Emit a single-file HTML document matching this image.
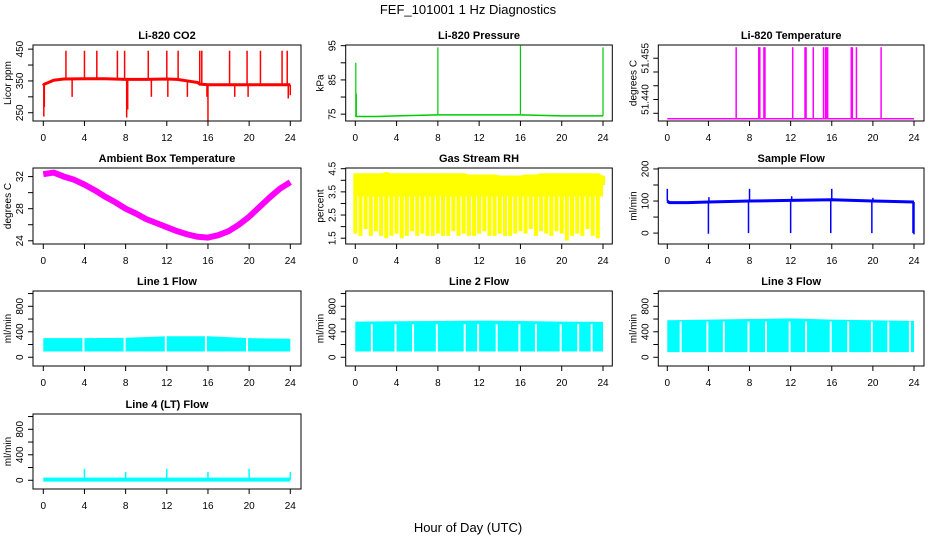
<!DOCTYPE html>
<html><head><meta charset="utf-8"><style>
html,body{margin:0;padding:0;background:#fff}
svg{display:block;font-family:"Liberation Sans",sans-serif}
</style></head><body>
<svg id="chart" width="936" height="540" viewBox="0 0 936 540" xmlns="http://www.w3.org/2000/svg">
<text x="468" y="14" text-anchor="middle" font-size="13">FEF_101001  1 Hz Diagnostics</text>
<text x="468" y="532" text-anchor="middle" font-size="13">Hour of Day (UTC)</text>
</svg>
<script>
// x tick values
const xTicks = [0,4,8,12,16,20,24];
// CO2
const co2BaseHours = [0,0.1,0.5,1,2,4,6,8,10,12,13,14,15,15.2,16,18,20,22,24];
const co2BaseVals  = [335,340,345,352,356,357,357,355,355,356,355,350,345,340,338,338,338,338,338];
const co2SpikeHours = [2.2,4,5.2,7.2,7.9,10.2,12,13.1,15.2,15.4,18.1,19.8,21.1,23.2,23.7,0.05,0.1,2.8,8.1,8.2,10.5,12.1,14,15.9,16,18.6,19.9,23.8,24];
const co2SpikeVals  = [445,445,445,445,445,445,445,445,445,445,445,445,445,445,445,238,268,300,235,260,300,300,300,300,225,300,300,295,305];
// Pressure
const presBaseHours = [0,0.1,2,4,8,12,16,20,24];
const presBaseVals  = [74.5,74.3,74.3,74.5,74.8,74.8,74.8,74.5,74.5];
const presSpikeHours = [0.05,0.1,8,16,24];
const presSpikeVals  = [90,81,94.5,95,94.5];
// Li-820 temperature
const tempBaseHours = [0,24];
const tempBaseVals  = [51.433,51.433];
const tempSpikeHours = [6.7,8.9,9.0,9.4,9.5,12.2,13.4,13.5,14.2,15.2,15.4,15.5,15.6,17.9,18.0,18.4,20.8];
const tempSpikeVals  = [51.459,51.459,51.459,51.459,51.459,51.459,51.459,51.459,51.459,51.459,51.459,51.459,51.459,51.459,51.459,51.459,51.459];
// Ambient box temperature
const ambHours = [0,1,2,3,4,5,6,7,8,9,10,11,12,13,14,15,16,17,18,19,20,21,22,23,24];
const ambVals  = [32.3,32.5,32.0,31.6,31.0,30.3,29.5,28.8,28.0,27.4,26.7,26.2,25.7,25.2,24.8,24.5,24.4,24.7,25.2,26.0,27.0,28.2,29.4,30.5,31.3];
// Gas stream RH
const rhHours = [0,0.5,1,1.5,2,2.5,3,3.5,4,4.5,5,5.5,6,6.5,7,7.5,8,8.5,9,9.5,10,10.5,11,11.5,12,12.5,13,13.5,14,14.5,15,15.5,16,16.5,17,17.5,18,18.5,19,19.5,20,20.5,21,21.5,22,22.5,23,23.5,24];
const rhLows  = [1.7,1.6,1.9,1.6,1.8,1.6,1.5,1.6,1.7,1.5,1.6,1.8,1.6,1.7,1.6,1.6,1.7,1.6,1.6,1.8,1.6,1.7,1.6,1.6,1.7,1.8,1.6,1.6,1.7,1.6,1.6,1.7,1.8,1.7,1.9,1.6,1.8,1.7,1.6,1.8,1.7,1.4,1.6,1.7,1.6,1.9,1.6,1.5,3.8];
const rhHighs = [4.3,4.3,4.3,4.3,4.3,4.3,4.35,4.3,4.3,4.3,4.3,4.3,4.3,4.3,4.3,4.3,4.3,4.3,4.3,4.3,4.3,4.3,4.25,4.25,4.25,4.25,4.25,4.25,4.2,4.2,4.2,4.2,4.2,4.25,4.25,4.25,4.3,4.3,4.3,4.3,4.3,4.3,4.3,4.3,4.3,4.3,4.3,4.3,4.2];
// Sample flow
const sfBaseHours = [0,0.2,2,4,8,12,16,20,24];
const sfBaseVals  = [100,95,95,97,100,102,104,100,97];
const sfSpikeHours = [0,4,4.05,7.9,8,12,12.1,15.9,16,19.9,20,23.9,24];
const sfSpikeVals  = [138,-2,112,0,138,0,115,0,138,0,110,0,-4];
// Line flows (band bottom / top, white gaps)
const flowHours = [0,4,8,12,16,20,24];
const line1Lows  = [90,90,90,90,90,90,90];
const line1Highs = [300,300,305,330,330,300,290];
const line1Gaps  = [3.9,7.9,11.9,15.8,19.8];
const line2Lows  = [90,90,90,90,90,90,90];
const line2Highs = [560,565,570,575,570,560,555];
const line2Gaps  = [1.6,3.9,5.6,7.9,10.6,11.9,13.7,15.9,17.5,19.9,21.6,22.9];
const line3Lows  = [80,80,80,80,80,80,80];
const line3Highs = [580,590,600,610,590,580,570];
const line3Gaps  = [1.3,3.9,5.5,7.9,9.6,11.9,13.5,15.9,17.6,19.9,21.5,23.6];
// Line 4 flow
const l4BaseHours = [0,24];
const l4BaseVals  = [10,10];
const l4SpikeHours = [4,8,12,16,20,24];
const l4SpikeVals  = [180,130,180,130,180,130];

const NS = "http://www.w3.org/2000/svg";
const svg = document.getElementById('chart');
const cols = [{l:33,r:301,x0:43.3,x1:290.3},{l:345.7,r:612.3,x0:355.3,x1:603},{l:658.3,r:924,x0:667.3,x1:914}];
const rows = [{t:45,b:121},{t:168,b:244},{t:291,b:366},{t:414,b:489}];
function mk(tag, attrs, parent){const e=document.createElementNS(NS,tag);for(const k in attrs)e.setAttribute(k,attrs[k]);(parent||svg).appendChild(e);return e;}
function makePanel(c,r,title,ylab,ymin,ymax,ticks,labels,name){
  const C=cols[c],R=rows[r];
  const g=mk('g',{});
  
  
  const p={g,C,R,ymin,ymax,
    sx:h=>C.x0+(C.x1-C.x0)*h/24,
    sy:v=>R.b-(v-ymin)/(ymax-ymin)*(R.b-R.t)};
  const tt=mk('text',{x:(C.l+C.r)/2,y:R.t-6,'text-anchor':'middle','font-size':11,'font-weight':'bold'},g);
  tt.textContent=title;
  
  
  p.data=mk('g',{},g);
  p.finish=function(){
    const box=mk('rect',{x:C.l,y:R.t,width:C.r-C.l,height:R.b-R.t,fill:'none',stroke:'#000','stroke-width':1},g);
    
    
    xTicks.forEach(h=>{
      const x=p.sx(h);
      mk('line',{x1:x,x2:x,y1:R.b,y2:R.b+5,stroke:'#000'},g);
      const t=mk('text',{x:x,y:R.b+20,'text-anchor':'middle','font-size':10},g);
      t.textContent=h;
      
      
    });
    ticks.forEach(v=>{
      const y=p.sy(v);
      mk('line',{x1:C.l-5,x2:C.l,y1:y,y2:y,stroke:'#000'},g);
    });
    labels.forEach(v=>{
      const y=p.sy(v);
      const t=mk('text',{x:C.l-10,y:y,'text-anchor':'middle','font-size':10,transform:`rotate(-90 ${C.l-10} ${y})`},g);
      t.textContent=v;
      
      
    });
    const yl=mk('text',{x:C.l-22,y:(R.t+R.b)/2,'text-anchor':'middle','font-size':10,transform:`rotate(-90 ${C.l-22} ${(R.t+R.b)/2})`},g);
    yl.textContent=ylab;
    
    
  };
  return p;
}
function interp(hs,vs,h){if(h<=hs[0])return vs[0];for(let i=1;i<hs.length;i++){if(h<=hs[i]){const f=(h-hs[i-1])/(hs[i]-hs[i-1]);return vs[i-1]+f*(vs[i]-vs[i-1]);}}return vs[vs.length-1];}
function drawLine(p,hs,vs,color,w,name){
  const pl=mk('polyline',{points:hs.map((h,i)=>p.sx(h)+','+p.sy(vs[i])).join(' '),fill:'none',stroke:color,'stroke-width':w,'stroke-linejoin':'round'},p.data);
  
  
}
function drawSpikes(p,bh,bv,sh,sv,color,w,name){
  sh.forEach((h,i)=>{
    const x=p.sx(h);
    const l=mk('line',{x1:x,x2:x,y1:p.sy(interp(bh,bv,h)),y2:p.sy(sv[i]),stroke:color,'stroke-width':w},p.data);
    
    
  });
}
function drawBand(p,hs,lo,hi,color,name){
  const pts=hs.map((h,i)=>p.sx(h)+','+p.sy(hi[i])).concat(hs.slice().reverse().map((h,j)=>p.sx(h)+','+p.sy(lo[hs.length-1-j])));
  const pg=mk('polygon',{points:pts.join(' '),fill:color},p.data);
  
  
}
function drawGaps(p,gs,lo,hi,name){
  gs.forEach(h=>{const x=p.sx(h);
    const l=mk('line',{x1:x,x2:x,y1:p.sy(lo),y2:p.sy(hi),stroke:'#fff','stroke-width':2},p.data);
    
    
  });
}

// CO2
let p=makePanel(0,0,'Li-820 CO2','Licor ppm',224,463,[250,300,350,400,450],[250,350,450],'co2');
drawLine(p,co2BaseHours,co2BaseVals,'#f00',3,'co2-line');
drawSpikes(p,co2BaseHours,co2BaseVals,co2SpikeHours,co2SpikeVals,'#f00',1.5,'co2-spike');
p.finish();
// Pressure
p=makePanel(1,0,'Li-820 Pressure','kPa',73,95.2,[75,80,85,90,95],[75,85,95],'pressure');
drawLine(p,presBaseHours,presBaseVals,'#0c0',1.5,'pressure-line');
drawSpikes(p,presBaseHours,presBaseVals,presSpikeHours,presSpikeVals,'#0c0',1.2,'pressure-spike');
p.finish();
// Li-820 temperature
p=makePanel(2,0,'Li-820 Temperature','degrees C',51.4322,51.4598,[51.435,51.44,51.445,51.45,51.455],[51.440,51.455].map(v=>v.toFixed(3)),'li820-temperature');
drawLine(p,tempBaseHours,tempBaseVals,'#f0f',1.5,'temperature-line');
drawSpikes(p,tempBaseHours,tempBaseVals,tempSpikeHours,tempSpikeVals,'#f0f',1.5,'temperature-spike');
p.finish();
// Ambient
p=makePanel(0,1,'Ambient Box Temperature','degrees C',23.6,33.07,[24,26,28,30,32],[24,28,32],'ambient-temperature');
drawLine(p,ambHours,ambVals,'#f0f',6,'ambient-temperature-line');
p.finish();
// RH
p=makePanel(1,1,'Gas Stream RH','percent',1.25,4.53,[1.5,2,2.5,3,3.5,4,4.5],[1.5,2.5,3.5,4.5],'gas-stream-rh');
drawBand(p,rhHours,rhHours.map(()=>3.3),rhHighs,'#ff0','rh-band');
drawSpikes(p,rhHours,rhHighs,rhHours,rhLows,'#ff0',4,'rh-spike');
p.finish();
// Sample flow
p=makePanel(2,1,'Sample Flow','ml/min',-34,203,[0,50,100,150,200],[0,100,200],'sample-flow');
drawLine(p,sfBaseHours,sfBaseVals,'#00f',3,'sample-flow-line');
drawSpikes(p,sfBaseHours,sfBaseVals,sfSpikeHours,sfSpikeVals,'#00f',1.5,'sample-flow-spike');
p.finish();
// Line 1
const flowTicks=[0,200,400,600,800,1000], flowLabels=[0,400,800];
p=makePanel(0,2,'Line 1 Flow','ml/min',-137,1040,flowTicks,flowLabels,'line1-flow');
drawBand(p,flowHours,line1Lows,line1Highs,'#0ff','line1-band');
drawGaps(p,line1Gaps,80,340,'line1-gap');
p.finish();
// Line 2
p=makePanel(1,2,'Line 2 Flow','ml/min',-137,1040,flowTicks,flowLabels,'line2-flow');
drawBand(p,flowHours,line2Lows,line2Highs,'#0ff','line2-band');
drawGaps(p,line2Gaps,80,520,'line2-gap');
p.finish();
// Line 3
p=makePanel(2,2,'Line 3 Flow','ml/min',-137,1040,flowTicks,flowLabels,'line3-flow');
drawBand(p,flowHours,line3Lows,line3Highs,'#0ff','line3-band');
drawGaps(p,line3Gaps,70,560,'line3-gap');
p.finish();
// Line 4
p=makePanel(0,3,'Line 4 (LT) Flow','ml/min',-137,1040,flowTicks,flowLabels,'line4-flow');
drawLine(p,l4BaseHours,l4BaseVals,'#0ff',4,'line4-line');
drawSpikes(p,l4BaseHours,l4BaseVals,l4SpikeHours,l4SpikeVals,'#0ff',1.5,'line4-spike');
p.finish();
</script>
</body></html>
